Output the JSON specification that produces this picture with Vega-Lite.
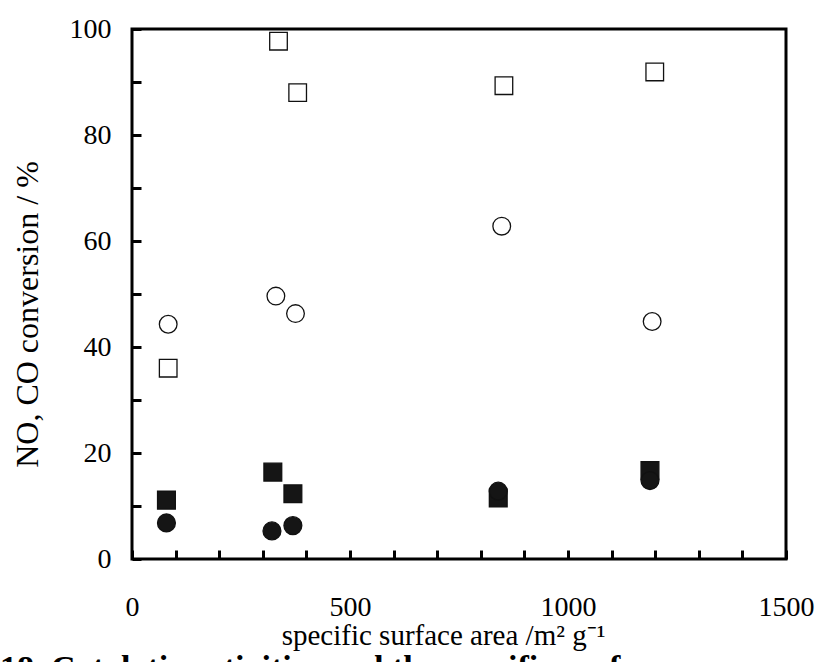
{
  "$schema": "https://vega.github.io/schema/vega-lite/v6.json",
  "width": 654,
  "height": 530,
  "autosize": {"type": "none"},
  "padding": {"left": 132, "top": 29, "right": 33, "bottom": 103},
  "background": "white",
  "title": {
    "text": "18. Catalytic activities and the specific surface area",
    "orient": "bottom",
    "anchor": "start",
    "frame": "group",
    "dx": -132,
    "offset": 2,
    "font": "Liberation Serif",
    "fontSize": 34,
    "fontWeight": "bold",
    "color": "black"
  },
  "data": {
    "values": [
      {"area": 83, "conversion": 36.0, "series": "open square"},
      {"area": 336, "conversion": 97.7, "series": "open square"},
      {"area": 380, "conversion": 88.0, "series": "open square"},
      {"area": 853, "conversion": 89.3, "series": "open square"},
      {"area": 1199, "conversion": 91.9, "series": "open square"},
      {"area": 83, "conversion": 44.3, "series": "open circle"},
      {"area": 330, "conversion": 49.6, "series": "open circle"},
      {"area": 375, "conversion": 46.3, "series": "open circle"},
      {"area": 848, "conversion": 62.8, "series": "open circle"},
      {"area": 1193, "conversion": 44.8, "series": "open circle"},
      {"area": 79, "conversion": 11.1, "series": "filled square"},
      {"area": 323, "conversion": 16.4, "series": "filled square"},
      {"area": 369, "conversion": 12.3, "series": "filled square"},
      {"area": 840, "conversion": 11.5, "series": "filled square"},
      {"area": 1188, "conversion": 16.7, "series": "filled square"},
      {"area": 79, "conversion": 6.8, "series": "filled circle"},
      {"area": 321, "conversion": 5.3, "series": "filled circle"},
      {"area": 369, "conversion": 6.3, "series": "filled circle"},
      {"area": 840, "conversion": 12.8, "series": "filled circle"},
      {"area": 1188, "conversion": 14.8, "series": "filled circle"}
    ]
  },
  "mark": {"type": "point", "filled": true, "stroke": "#111111", "strokeWidth": 1.3, "opacity": 1},
  "encoding": {
    "x": {
      "field": "area",
      "type": "quantitative",
      "scale": {"domain": [0, 1500], "nice": false, "zero": false},
      "axis": {
        "title": "specific surface area /m² g⁻¹",
        "values": [0, 100, 200, 300, 400, 500, 600, 700, 800, 900, 1000, 1100, 1200, 1300, 1400, 1500],
        "labelExpr": "datum.value % 500 === 0 ? datum.label : ''",
        "format": "d",
        "grid": false,
        "domain": false,
        "tickSize": -9,
        "tickWidth": 3,
        "tickColor": "black",
        "labelPadding": 43,
        "labelFont": "Liberation Serif",
        "labelFontSize": 28,
        "labelColor": "black",
        "labelFlush": false,
        "labelOverlap": false,
        "titleFont": "Liberation Serif",
        "titleFontSize": 29,
        "titleFontWeight": "normal",
        "titleColor": "black",
        "titlePadding": 0,
        "titleX": 311
      }
    },
    "y": {
      "field": "conversion",
      "type": "quantitative",
      "scale": {"domain": [0, 100], "nice": false},
      "axis": {
        "title": "NO, CO conversion / %",
        "values": [0, 10, 20, 30, 40, 50, 60, 70, 80, 90, 100],
        "labelExpr": "datum.value % 20 === 0 ? datum.label : ''",
        "grid": false,
        "domain": false,
        "tickSize": -9,
        "tickWidth": 3,
        "tickColor": "black",
        "labelPadding": 30,
        "labelFont": "Liberation Serif",
        "labelFontSize": 28,
        "labelColor": "black",
        "labelFlush": false,
        "labelOverlap": false,
        "titleFont": "Liberation Serif",
        "titleFontSize": 32,
        "titleFontWeight": "normal",
        "titleColor": "black",
        "titleX": -88,
        "titleY": 285
      }
    },
    "shape": {
      "field": "series",
      "type": "nominal",
      "scale": {
        "domain": ["open square", "open circle", "filled square", "filled circle"],
        "range": ["square", "circle", "square", "circle"]
      },
      "legend": null
    },
    "fill": {
      "field": "series",
      "type": "nominal",
      "scale": {
        "domain": ["open square", "open circle", "filled square", "filled circle"],
        "range": ["white", "white", "#151515", "#151515"]
      },
      "legend": null
    },
    "size": {
      "field": "series",
      "type": "nominal",
      "scale": {
        "domain": ["open square", "open circle", "filled square", "filled circle"],
        "range": [310, 320, 310, 260]
      },
      "legend": null
    }
  },
  "config": {
    "view": {"stroke": "black", "strokeWidth": 3}
  }
}
